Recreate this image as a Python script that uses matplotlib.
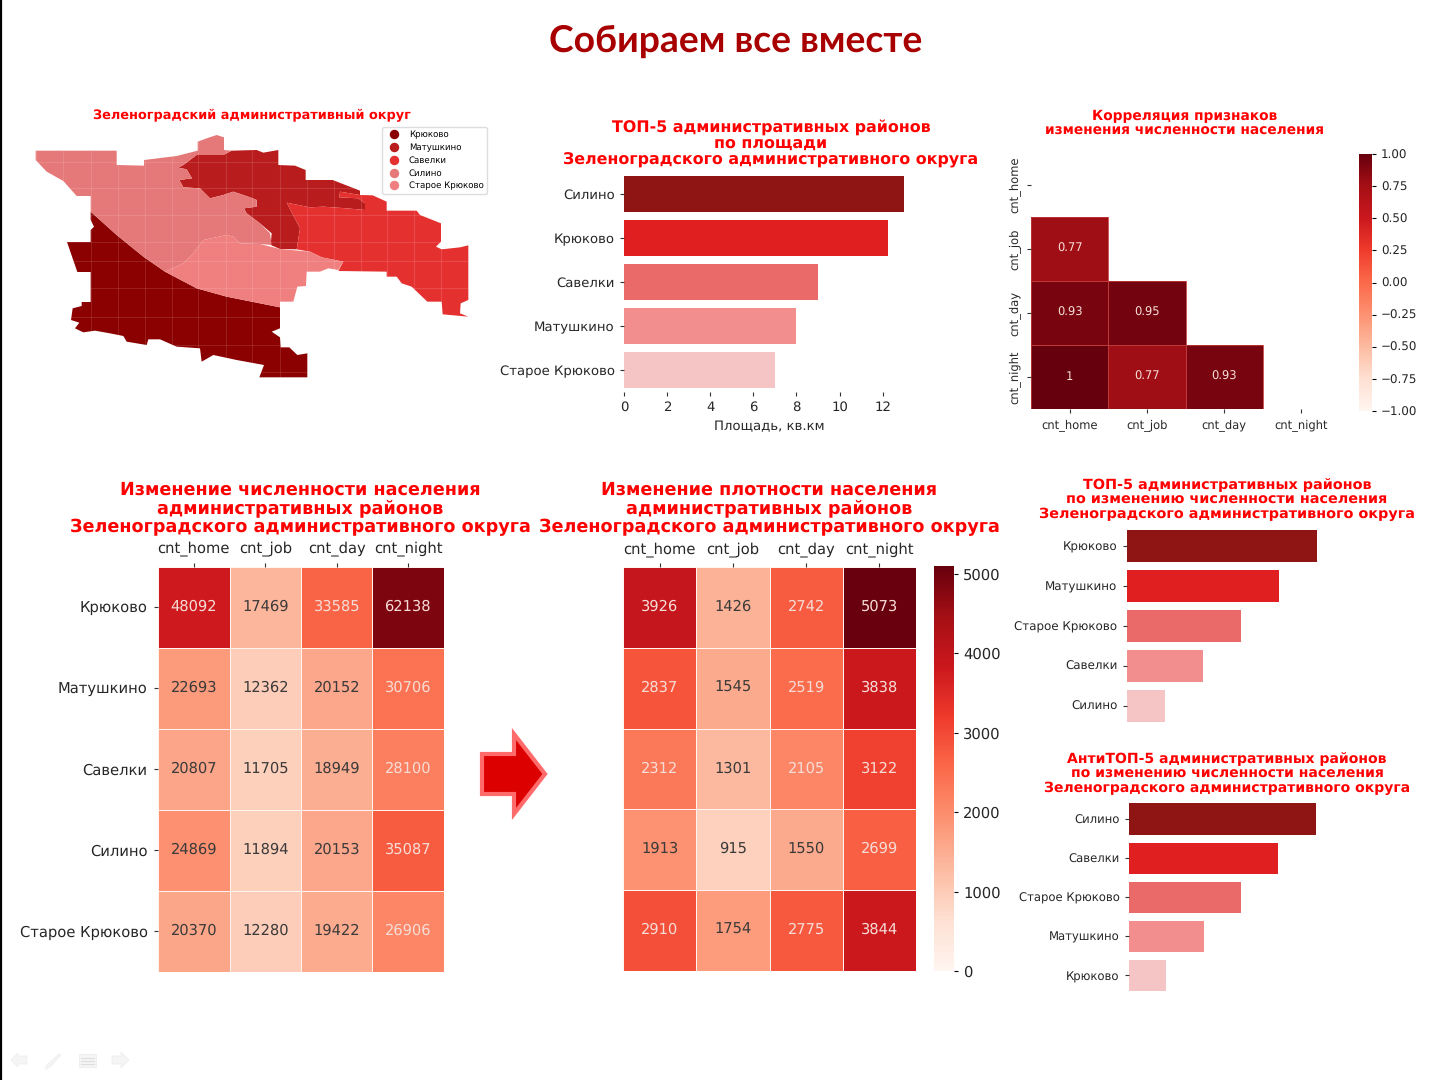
import numpy as np
import matplotlib
matplotlib.use("Agg")
import matplotlib.pyplot as plt
from matplotlib.lines import Line2D
from matplotlib.patches import Polygon, Rectangle
from matplotlib.path import Path

W, H = 1442, 1080

features = ["cnt_home", "cnt_job", "cnt_day", "cnt_night"]
districts = ["Крюково", "Матушкино", "Савелки", "Силино", "Старое Крюково"]

count_values = [
    [48092, 17469, 33585, 62138],
    [22693, 12362, 20152, 30706],
    [20807, 11705, 18949, 28100],
    [24869, 11894, 20153, 35087],
    [20370, 12280, 19422, 26906],
]
density_values = [
    [3926, 1426, 2742, 5073],
    [2837, 1545, 2519, 3838],
    [2312, 1301, 2105, 3122],
    [1913, 915, 1550, 2699],
    [2910, 1754, 2775, 3844],
]
corr_values = [
    [1.00, 0.77, 0.93, 1.00],
    [0.77, 1.00, 0.95, 0.77],
    [0.93, 0.95, 1.00, 0.93],
    [1.00, 0.77, 0.93, 1.00],
]

area_names = ["Силино", "Крюково", "Савелки", "Матушкино", "Старое Крюково"]
area_values = [13.0, 12.25, 9.0, 8.0, 7.0]
top_names = ["Крюково", "Матушкино", "Старое Крюково", "Савелки", "Силино"]
top_values = [5, 4, 3, 2, 1]
anti_names = ["Силино", "Савелки", "Старое Крюково", "Матушкино", "Крюково"]
anti_values = [5, 4, 3, 2, 1]
bar_colors = ["#8f1414", "#e02020", "#ea6a6a", "#f28e8e", "#f5c4c4"]

# district outlines
kryukovo_shape = [(212,335),(290,405),(370,470),(435,515),(530,565),(620,590),(780,622),(780,685),(755,695),(780,712),(782,742),(808,742),(832,765),(862,760),(862,832),(718,832),(732,795),(650,780),(580,765),(545,785),(540,745),(470,740),(420,718),(385,718),(380,735),(320,725),(310,708),(270,700),(225,692),(190,697),(165,685),(178,668),(153,660),(158,625),(185,618),(185,606),(212,606),(212,516),(172,516),(141,426),(212,426),(212,390),(222,380),(212,360)]
silino_shape = [(47,152),(290,152),(290,195),(372,197),(372,180),(470,168),(533,152),(533,125),(560,115),(590,105),(612,112),(612,150),(635,152),(610,165),(530,165),(490,195),(475,203),(500,208),(516,235),(478,240),(490,262),(540,265),(570,295),(610,285),(640,275),(690,292),(710,300),(710,320),(672,325),(680,340),(720,370),(750,400),(755,435),(720,432),(660,430),(640,410),(620,405),(550,420),(520,460),(490,490),(435,515),(370,470),(290,405),(212,335),(212,288),(170,288),(130,243),(80,215),(47,180)]
old_kryukovo_shape = [(435,515),(490,490),(520,460),(550,420),(620,405),(640,410),(660,430),(720,432),(780,447),(870,455),(905,472),(970,485),(955,510),(925,505),(900,515),(860,515),(858,558),(832,560),(820,605),(780,605),(780,622),(620,590),(530,565)]
matushkino_shape = [(490,195),(530,165),(610,165),(635,152),(710,150),(730,158),(775,150),(775,195),(825,197),(857,210),(857,240),(938,240),(1020,272),(1020,285),(960,275),(958,292),(1015,295),(1035,310),(1035,330),(980,325),(910,320),(870,322),(800,308),(840,385),(830,448),(780,447),(752,435),(755,400),(720,370),(680,340),(672,325),(710,320),(710,300),(690,292),(640,275),(610,285),(570,295),(540,265),(490,262),(478,240),(516,235),(500,208),(475,203)]
savelki_shape = [(800,308),(870,322),(910,320),(980,325),(1035,330),(1035,310),(1015,295),(958,292),(960,275),(1020,285),(1058,286),(1100,305),(1100,332),(1190,332),(1200,345),(1263,370),(1263,425),(1248,440),(1265,448),(1320,442),(1345,436),(1345,600),(1322,610),(1320,640),(1345,650),(1268,643),(1265,605),(1222,605),(1175,560),(1145,550),(1130,530),(1100,530),(1100,515),(955,513),(970,485),(905,472),(870,455),(830,448),(840,385)]

map_shapes = [kryukovo_shape, matushkino_shape, savelki_shape, silino_shape, old_kryukovo_shape]
map_colors = ["#8b0000", "#b91c1c", "#e53030", "#e57878", "#f08080"]
grid_x = [47, 130, 212, 293, 375, 455, 535, 617, 697, 780, 862, 942, 1022, 1102, 1183, 1263]
grid_y = [185, 265, 345, 425, 482, 565, 650, 735, 815]

plt.rcParams["font.family"] = "DejaVu Sans"
plt.rcParams["text.hinting"] = "none"
fig = plt.figure(figsize=(W / 100, H / 100), dpi=100, facecolor="white")


def px_axes(x0, y0, x1, y1):
    # axes placed by picture pixels, y goes down
    return fig.add_axes([x0 / W, 1 - y1 / H, (x1 - x0) / W, (y1 - y0) / H])


def heatmap(box, values, vmin, vmax, names, fontsize, tick_size, top=False, fmt="{}", mask=None):
    ax = px_axes(*box)
    data = np.array(values, dtype=float)
    if mask is not None:
        # masked cells must stay blank, so cell borders go on by hand below
        data = np.ma.masked_where(mask, data)
        mesh = ax.pcolormesh(data, cmap="Reds", vmin=vmin, vmax=vmax)
    else:
        mesh = ax.pcolormesh(data, cmap="Reds", vmin=vmin, vmax=vmax, edgecolors="#fff4f0", linewidth=0.4)
    ax.invert_yaxis()
    ax.set_xticks(np.arange(data.shape[1]) + 0.5, features)
    ax.set_yticks(np.arange(data.shape[0]) + 0.5, names)
    ax.tick_params(labelsize=tick_size, length=3, width=0.8, pad=4.5, color="#333333", labelcolor="#262626")
    if top:
        ax.xaxis.tick_top()
    for s in ax.spines.values():
        s.set_visible(False)
    norm = mesh.norm
    for i in range(data.shape[0]):
        for j in range(data.shape[1]):
            if data[i, j] is np.ma.masked:
                continue
            if mask is not None:
                ax.add_patch(Rectangle((j, i), 1, 1, fill=False, edgecolor="#c03a3a", lw=0.6))
            colour = "#f6dcd6" if norm(data[i, j]) > 0.4 else "#3a3a3a"
            ax.text(j + 0.5, i + 0.49, fmt.format(values[i][j]), ha="center", va="center",
                    fontsize=fontsize, color=colour)
    return ax, mesh


def bars(box, names, values, xmax, tick_size, height=0.8, show_x=False):
    ax = px_axes(*box)
    pos = np.arange(len(names))
    ax.barh(pos, values, height=height, color=bar_colors)
    ax.set_yticks(pos, names)
    ax.set_xlim(0, xmax)
    ax.set_ylim(len(names) - 0.5, -0.5)
    ax.tick_params(axis="y", labelsize=tick_size, length=3, width=0.8, pad=3.8, color="#333333", labelcolor="#262626")
    for s in ax.spines.values():
        s.set_visible(False)
    if show_x:
        ax.set_xticks([0, 2, 4, 6, 8, 10, 12])
        ax.tick_params(axis="x", labelsize=tick_size, length=3, width=0.8, color="#333333", labelcolor="#262626")
        ax.set_xlabel("Площадь, кв.км", fontsize=tick_size, color="#262626", labelpad=4.5)
    else:
        ax.set_xticks([])
    return ax


# map
map_ax = px_axes(20, 100, 500, 390)
map_ax.set_xlim(0, 1440)
map_ax.set_ylim(870, 0)
map_ax.axis("off")
clip_verts, clip_codes = [], []
for shape, colour in zip(map_shapes, map_colors):
    map_ax.add_patch(Polygon(shape, closed=True, facecolor=colour, edgecolor="none"))
    clip_verts += list(shape) + [shape[0]]
    clip_codes += [Path.MOVETO] + [Path.LINETO] * (len(shape) - 1) + [Path.CLOSEPOLY]
clip = Path(clip_verts, clip_codes)
for x in grid_x:
    gl = map_ax.axvline(x, color="white", lw=0.8, alpha=0.12)
    gl.set_clip_path(clip, map_ax.transData)
for y in grid_y:
    gl = map_ax.axhline(y, color="white", lw=0.8, alpha=0.12)
    gl.set_clip_path(clip, map_ax.transData)
handles = [Line2D([], [], ls="none", marker="o", ms=5.8, color=c, label=n) for c, n in zip(map_colors, districts)]
map_ax.legend(handles=handles, loc="upper right", bbox_to_anchor=(0.973, 0.907), borderaxespad=0, fontsize=6.25,
              labelspacing=0.47, handletextpad=0.69, borderpad=0.4, framealpha=1, edgecolor="#dddddd")

# bars
bars((624, 172, 915, 392), area_names, area_values, 13.5, 9.55, show_x=True)
bars((1127, 525.5, 1330, 725.5), top_names, top_values, 5.33, 8.6)
bars((1129, 799.5, 1330, 995), anti_names, anti_values, 5.38, 8.4)

# heatmaps
heatmap((158, 566.5, 444, 971.5), count_values, 0, 65000, districts, 10.5, 10.6, top=True)
ax_d, mesh_d = heatmap((623, 567, 916, 971), density_values, 0, 5100, [""] * 5, 10.5, 10.6, top=True)
ax_d.set_yticks([])
cax = px_axes(934, 566, 954, 971)
cb = fig.colorbar(mesh_d, cax=cax)
cb.set_ticks([0, 1000, 2000, 3000, 4000, 5000])
cb.outline.set_visible(False)
cax.tick_params(labelsize=10.6, length=3, width=0.8, pad=3.5, labelcolor="#262626")

corr_mask = np.triu(np.ones((4, 4), dtype=bool))
ax_c, mesh_c = heatmap((1031, 153, 1340, 409), corr_values, -1, 1, features, 8.3, 8.3,
                       fmt="{:g}", mask=corr_mask)
ax_c.tick_params(axis="y", labelrotation=90)
for lab in ax_c.get_yticklabels():
    lab.set_va("center")
cax2 = px_axes(1359, 154, 1372, 411)
cb2 = fig.colorbar(mesh_c, cax=cax2)
cb2.set_ticks(np.arange(-1, 1.01, 0.25))
cb2.outline.set_visible(False)
cax2.tick_params(labelsize=8.6, length=3, width=0.8, labelcolor="#262626")

# text, arrow and slide controls on a pixel overlay
over = fig.add_axes([0, 0, 1, 1], zorder=10)
over.set_xlim(0, W)
over.set_ylim(H, 0)
over.axis("off")
over.patch.set_alpha(0)

over.text(736, 41, "Собираем все вместе", ha="center", va="center", fontsize=26.8, fontweight="bold",
          family="Lato", color="#a80000")

red_titles = [
    (252, 115, 9.25, 1.03, "Зеленоградский административный округ"),
    (771, 144, 11.45, 1.08, "ТОП-5 административных районов\nпо площади\nЗеленоградского административного округа"),
    (1185, 123.5, 9.95, 1.08, "Корреляция признаков\nизменения численности населения"),
    (300, 508.5, 12.7, 1.05, "Изменение численности населения\nадминистративных районов\nЗеленоградского административного округа"),
    (769, 508.5, 12.7, 1.05, "Изменение плотности населения\nадминистративных районов\nЗеленоградского административного округа"),
    (1227, 499.5, 10.35, 1.1, "ТОП-5 административных районов\nпо изменению численности населения\nЗеленоградского административного округа"),
    (1227, 773.5, 10.1, 1.08, "АнтиТОП-5 административных районов\nпо изменению численности населения\nЗеленоградского административного округа"),
]
for x, y, size, spacing, label in red_titles:
    over.text(x, y, label, ha="center", va="center", fontsize=size, fontweight="bold", color="#ff0000",
              linespacing=spacing)

over.add_patch(Polygon([(482, 754), (514, 754), (514, 734), (545, 774), (514, 814), (514, 794), (482, 794)],
                       closed=True, facecolor="#dd0000", edgecolor="#ff6b6b", linewidth=3, joinstyle="miter"))

over.plot([0.8, 0.8], [0, H], color="black", lw=1.6)

icon_face = "#f5f5f5"
icon_edge = "#ececec"
over.add_patch(Polygon([(11, 1060), (18, 1053), (18, 1056), (27, 1056), (27, 1064), (18, 1064), (18, 1067)],
                       facecolor=icon_face, edgecolor=icon_edge, lw=0.5))
over.add_patch(Polygon([(46, 1066), (59, 1054), (61, 1055), (50, 1067), (46, 1069)],
                       facecolor=icon_face, edgecolor=icon_edge, lw=0.5))
over.add_patch(Polygon([(79, 1054), (96, 1054), (96, 1067), (79, 1067)],
                       facecolor=icon_face, edgecolor=icon_edge, lw=0.5))
for y in [1058, 1061, 1064]:
    over.plot([81, 94], [y, y], color="#dedede", lw=0.8)
over.add_patch(Polygon([(112, 1056), (121, 1056), (121, 1052), (129, 1060), (121, 1068), (121, 1064), (112, 1064)],
                       facecolor=icon_face, edgecolor=icon_edge, lw=0.5))

fig.savefig("out.png", dpi=100)
